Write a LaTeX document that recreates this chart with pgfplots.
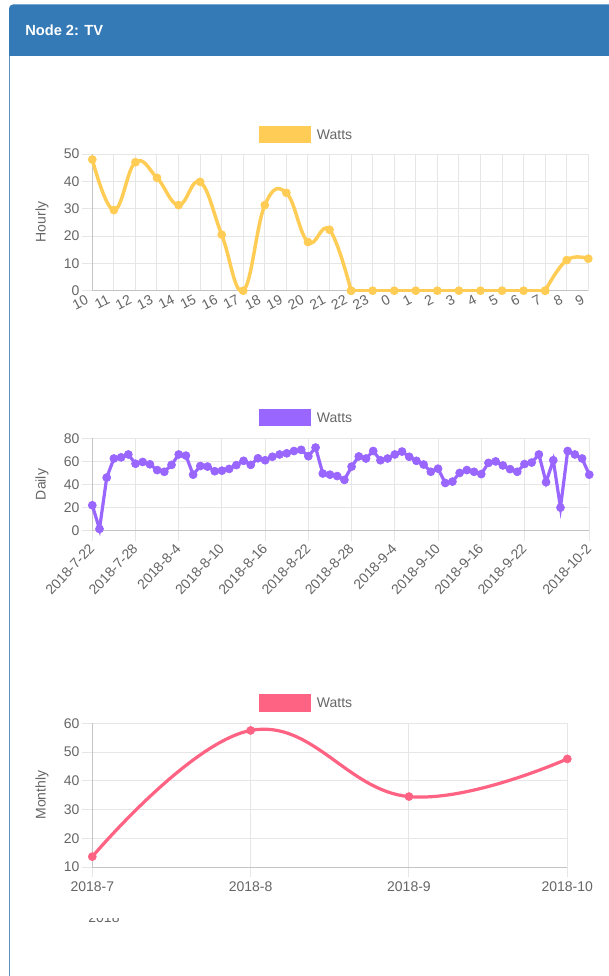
\documentclass[border=0pt]{standalone}
\usepackage{fontspec}
\setmainfont{Liberation Sans}
\usepackage{pgfplots}
\pgfplotsset{compat=1.18}
\definecolor{hdr}{HTML}{337AB7}
\definecolor{txt}{HTML}{666666}
\definecolor{gridc}{HTML}{E6E6E6}
\definecolor{axc}{HTML}{C4C4C4}
\definecolor{cyel}{HTML}{FFCD56}
\definecolor{cpur}{HTML}{9966FF}
\definecolor{cred}{HTML}{FF6384}
\newcommand{\fs}{\fontsize{10.5}{12}\selectfont}
\pgfplotsset{
  chartjs/.style={
    scale only axis,
    anchor=south west,
    axis lines*=left,
    axis line style={axc, line width=0.75pt, -},
    grid=major,
    major grid style={gridc, line width=0.75pt},
    tick align=outside,
    major tick length=7.5pt,
    every tick/.style={gridc, line width=0.75pt},
    tick label style={font=\fs, text=txt},
    yticklabel style={anchor=east, inner sep=0pt, xshift=-2pt},
    /pgf/number format/assume math mode=true,
    clip=false,
  }
}
\begin{document}
\begin{tikzpicture}[x=0.75pt,y=0.75pt]
\clip (0,0) rectangle (609,976);
\fill[white] (0,0) rectangle (609,976);
% panel
\draw[hdr!80, line width=0.75pt] (9.5,0) -- (9.5,968);
\fill[hdr] (9,920) [rounded corners=3] |- (620,971.5) [sharp corners] -- (620,920) -- cycle;
\node[anchor=west, text=white, font=\bfseries\fontsize{11}{13}\selectfont, inner sep=0pt] at (25,945.5) {Node 2: TV};

\coordinate (c1) at (92.3,685.3);
\coordinate (c2) at (92.3,445.3);
\coordinate (c3) at (92.3,109);

% ---------------- Hourly
\begin{axis}[chartjs, at={(c1)}, width=372pt, height=102.5pt,
  xmin=0, xmax=23, ymin=0, ymax=50,
  xtick={0,...,23},
  xticklabels={10,11,12,13,14,15,16,17,18,19,20,21,22,23,0,1,2,3,4,5,6,7,8,9},
  xtick style={draw=none},
  xticklabel style={rotate=27, anchor=north east, inner sep=0pt, yshift=7pt, xshift=-2.5pt},
  ytick={0,10,20,30,40,50},
]
\addplot[cyel, line width=2.6pt, smooth, tension=0.7, mark=*, mark size=3pt, mark options={fill=cyel, draw=cyel, line width=0.5pt}] table {
x y
0 48
1 29.5
2 47
3 41.3
4 31.3
5 39.8
6 20.5
7 0
8 31.3
9 35.8
10 17.8
11 22.3
12 0
};
\addplot[cyel, line width=2.6pt, mark=*, mark size=3pt, mark options={fill=cyel, draw=cyel, line width=0.5pt}] table {
x y
12 0
13 0
14 0
15 0
16 0
17 0
18 0
19 0
20 0
21 0
};
\addplot[cyel, line width=2.6pt, smooth, tension=0.7, mark=*, mark size=3pt, mark options={fill=cyel, draw=cyel, line width=0.5pt}] table {
x y
21 0
22 11.2
23 11.7
};
\end{axis}

% ---------------- Daily
\begin{axis}[chartjs, at={(c2)}, width=372.75pt, height=69.3pt,
  xmin=0, xmax=69, ymin=0, ymax=80,
  xtick={0,6,12,18,24,30,36,42,48,54,60,69},
  xticklabels={2018-7-22,2018-7-28,2018-8-4,2018-8-10,2018-8-16,2018-8-22,2018-8-28,2018-9-4,2018-9-10,2018-9-16,2018-9-22,2018-10-2},
  xticklabel style={rotate=47, anchor=north east, inner sep=0pt, xshift=-3pt, yshift=1.5pt},
  ytick={0,20,40,60,80},
]
\addplot[cpur, line width=2.4pt, mark=*, mark size=3pt, mark options={fill=cpur, draw=cpur, line width=0.5pt}] table {
x y
0 22
1 1.5
2 46
3 62.5
4 63.5
5 66
6 58
7 59.5
8 57.5
9 52.5
10 51
11 57
12 66
13 65
14 48.5
15 56
16 55.5
17 51.5
18 52
19 53.5
20 56.8
21 60.5
22 57
23 62.7
24 61
25 64
26 66
27 67
28 69
29 70
30 64.5
31 72
32 49.5
33 48.5
34 47.3
35 44
36 55.5
37 64.3
38 62.5
39 69
40 61
41 62.5
42 66
43 68.5
44 64
45 60.5
46 57.3
47 51
48 53.7
49 41.3
50 42.5
51 50
52 52.5
53 51
54 49
55 58.7
56 60
57 56.5
58 53.3
59 51
60 57.7
61 59
62 66
63 42
64 61
65 20
66 69
67 66
68 62.5
69 48.5
};
\end{axis}

% ---------------- Monthly
\begin{axis}[chartjs, at={(c3)}, width=356.25pt, height=107.8pt,
  xmin=0, xmax=3, ymin=10, ymax=60,
  xtick={0,1,2,3},
  xticklabels={2018-7,2018-8,2018-9,2018-10},
  xticklabel style={anchor=north, inner sep=0pt, yshift=-3pt},
  ytick={10,20,30,40,50,60},
]
\addplot[cred, line width=2.4pt, smooth, tension=0.7, mark=*, mark size=3pt, mark options={fill=cred, draw=cred, line width=0.5pt}] table {
x y
0 13.6
1 57.5
2 34.5
3 47.6
};
\end{axis}

% legends
\fill[cyel] (259,833) rectangle (311,850);
\node[anchor=west, text=txt, font=\fs, inner sep=0pt] at (316.7,841.5) {Watts};
\fill[cpur] (259,550) rectangle (311,567);
\node[anchor=west, text=txt, font=\fs, inner sep=0pt] at (316.7,558.5) {Watts};
\fill[cred] (259,264) rectangle (311,282);
\node[anchor=west, text=txt, font=\fs, inner sep=0pt] at (316.7,273) {Watts};

% y labels
\node[rotate=90, text=txt, font=\fs] at (42,754) {Hourly};
\node[rotate=90, text=txt, font=\fs] at (42,491.5) {Daily};
\node[rotate=90, text=txt, font=\fs] at (42,181) {Monthly};

% clipped x title
\begin{scope}
\clip (70,0) rectangle (140,57.5);
\node[anchor=base, text=txt, font=\fs, inner sep=0pt] at (104,53) {2018};
\end{scope}
\end{tikzpicture}
\end{document}
